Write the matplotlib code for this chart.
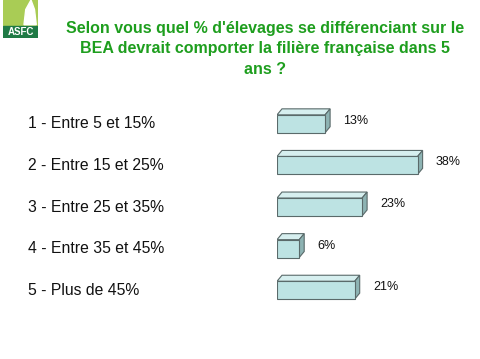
import matplotlib
matplotlib.use("Agg")
import matplotlib.pyplot as plt
from matplotlib.patches import Polygon, Rectangle

categories = ["1 - Entre 5 et 15%", "2 - Entre 15 et 25%", "3 - Entre 25 et 35%",
              "4 - Entre 35 et 45%", "5 - Plus de 45%"]
values = [13, 38, 23, 6, 21]
value_labels = ["13%", "38%", "23%", "6%", "21%"]
title = "Selon vous quel % d'élevages se différenciant sur le\nBEA devrait comporter la filière française dans 5\nans ?"

W, H = 480, 359
fig = plt.figure(figsize=(4.8, 3.59), dpi=100)
plt.rcParams['font.family'] = ['Liberation Sans', 'DejaVu Sans']

def fx(px):
    return px / W

def fy(py):
    return 1 - py / H

# Title
fig.text(fx(265), fy(49), title, ha='center', va='center', fontsize=11.5,
         fontweight='bold', color='#1E9E1E', linespacing=1.42)

# Logo
logo = fig.add_axes([fx(3), fy(38), fx(35), 38 / H])
logo.set_xlim(0, 1); logo.set_ylim(0, 1); logo.axis('off')
logo.add_patch(Rectangle((0, 0.3), 1, 0.7, color='#A9CC55'))
logo.add_patch(Rectangle((0, 0), 1, 0.32, color='#1F7A45'))
logo.add_patch(Polygon([(0.6, 0.35), (0.95, 0.35), (0.9, 0.75), (0.8, 1.0), (0.65, 0.75)], color='white'))
logo.text(0.5, 0.15, "ASFC", ha='center', va='center', color='white', fontsize=7, fontweight='bold')

# Bar chart axes
scale = 3.7  # px per %
x0 = 277
xmax = 50
ax = fig.add_axes([fx(x0), fy(311), xmax * scale / W, (311 - 103) / H])
ax.set_xlim(0, xmax)
ax.set_ylim(4.5, -0.5)
ax.axis('off')

bh = 0.43
dx = 5 / scale
dy = 6 / 41.5
face = '#BDE3E3'
top_c = '#D6EFEF'
side_c = '#8DB3B3'
edge = '#5A6A6A'

ypos = list(range(len(values)))
ax.barh(ypos, values, height=bh, color=face, edgecolor=edge, linewidth=0.8, zorder=3)
for y, v, lab in zip(ypos, values, value_labels):
    t = y - bh / 2
    b = y + bh / 2
    ax.add_patch(Polygon([(0, t), (v, t), (v + dx, t - dy), (dx, t - dy)],
                         closed=True, facecolor=top_c, edgecolor=edge, linewidth=0.8, zorder=2))
    ax.add_patch(Polygon([(v, t), (v + dx, t - dy), (v + dx, b - dy), (v, b)],
                         closed=True, facecolor=side_c, edgecolor=edge, linewidth=0.8, zorder=2))
    ax.annotate(lab, (v + dx, y - dy / 2), xytext=(9.5, 0), textcoords='offset points',
                ha='left', va='center', fontsize=9, color='#111111')

# Category labels
for y, c in zip(ypos, categories):
    ax.annotate(c, (0, y), xycoords=('axes fraction', 'data'), xytext=(-(x0 - 28), 0),
                textcoords='offset pixels', ha='left', va='center', fontsize=11.3, color='#111111')

fig.savefig("out.png", dpi=100)
